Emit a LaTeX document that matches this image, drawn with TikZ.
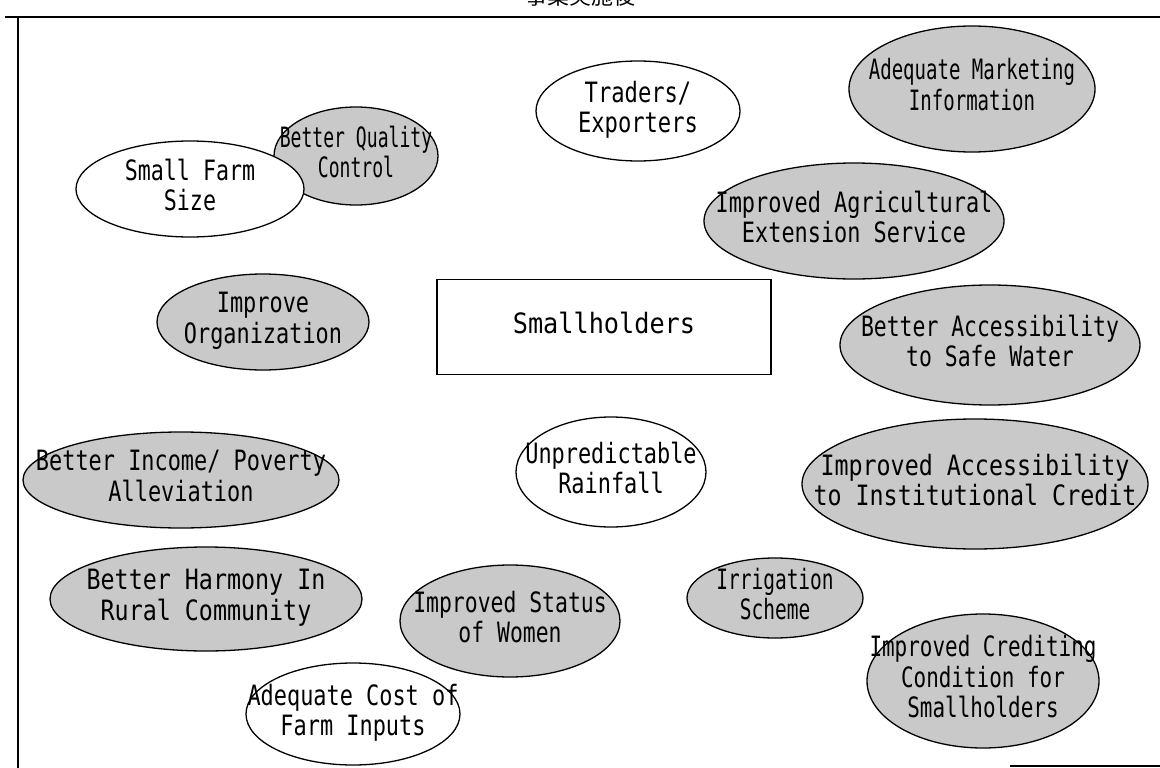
\documentclass[tikz,border=0pt]{standalone}
\usepackage{fontspec}
\usepackage{graphicx}
\newfontfamily\lblfont[FakeStretch=0.85]{DejaVu Sans Mono}
\newfontfamily\jpfont{Noto Sans CJK JP}
\usetikzlibrary{shapes.geometric}
\newcommand{\lbtext}[2]{\scalebox{#1}[1]{\begin{tabular}{@{}c@{}}#2\end{tabular}}}
\tikzset{
  lbl/.style={font=\lblfont\fontsize{28}{30}\selectfont, inner sep=0pt},
  oval/.style={ellipse, draw=black, line width=1.3pt, inner sep=0pt},
  wov/.style={oval, fill=white},
  gov/.style={oval, fill=gray!42},
  frame/.style={line width=1.3pt}
}
\begin{document}
\begin{tikzpicture}[x=1pt,y=-1pt]
\useasboundingbox (0,0) rectangle (1160,768);
\fill[white] (0,0) rectangle (1160,768);
\node[font=\jpfont\fontsize{22}{22}\selectfont, anchor=south] (title) at (580,10) {事業実施後};
\draw[frame] (5,17) -- (1160,17);
\draw[frame] (18,17) -- (18,768);
\draw[frame] (1010,766) -- (1160,766);

\node[wov, minimum width=204pt, minimum height=100pt] (traders) at (638,111) {};
\node[lbl] at (traders) {\lbtext{0.93}{Traders/\\Exporters}};
\node[gov, minimum width=246pt, minimum height=126pt] (market) at (972,89) {};
\node[lbl] at (market) {\lbtext{0.8}{Adequate Marketing\\Information}};
\node[gov, minimum width=164pt, minimum height=98pt] (quality) at (356,156) {};
\node[lbl] at (quality) {\lbtext{0.76}{Better Quality\\Control}};
\node[wov, minimum width=228pt, minimum height=96pt] (farm) at (190,189) {};
\node[lbl] at (farm) {\lbtext{0.91}{Small Farm\\Size}};
\node[gov, minimum width=300pt, minimum height=116pt] (ext) at (854,221) {};
\node[lbl] at (ext) {\lbtext{0.92}{Improved Agricultural\\Extension Service}};
\node[gov, minimum width=212pt, minimum height=96pt] (org) at (263,322) {};
\node[lbl] at (org) {\lbtext{0.92}{Improve\\Organization}};
\node[draw=black, line width=1.3pt, inner sep=0pt, minimum width=334pt, minimum height=95pt] (small) at (604,327) {};
\node[lbl] at (small) {\lbtext{1.06}{Smallholders}};
\node[gov, minimum width=300pt, minimum height=120pt] (water) at (990,345) {};
\node[lbl] at (water) {\lbtext{0.9}{Better Accessibility\\to Safe Water}};
\node[gov, minimum width=316pt, minimum height=96pt] (income) at (181,480) {};
\node[lbl] at (income) {\lbtext{0.92}{Better Income/ Poverty\\Alleviation}};
\node[wov, minimum width=190pt, minimum height=110pt] (rain) at (611,472) {};
\node[lbl] at (rain) {\lbtext{0.92}{Unpredictable\\Rainfall}};
\node[gov, minimum width=346pt, minimum height=130pt] (credit) at (975,484) {};
\node[lbl] at (credit) {\lbtext{0.98}{Improved Accessibility\\to Institutional Credit}};
\node[gov, minimum width=312pt, minimum height=104pt] (harmony) at (206,599) {};
\node[lbl] at (harmony) {\lbtext{0.98}{Better Harmony In\\Rural Community}};
\node[gov, minimum width=220pt, minimum height=112pt] (women) at (510,621) {};
\node[lbl] at (women) {\lbtext{0.9}{Improved Status\\of Women}};
\node[gov, minimum width=176pt, minimum height=80pt] (irr) at (775,598) {};
\node[lbl] at (irr) {\lbtext{0.82}{Irrigation\\Scheme}};
\node[gov, minimum width=232pt, minimum height=134pt] (cond) at (983,681) {};
\node[lbl] at (cond) {\lbtext{0.88}{Improved Crediting\\Condition for\\Smallholders}};
\node[wov, minimum width=214pt, minimum height=102pt] (cost) at (353,714) {};
\node[lbl] at (cost) {\lbtext{0.92}{Adequate Cost of\\Farm Inputs}};
\end{tikzpicture}
\end{document}
